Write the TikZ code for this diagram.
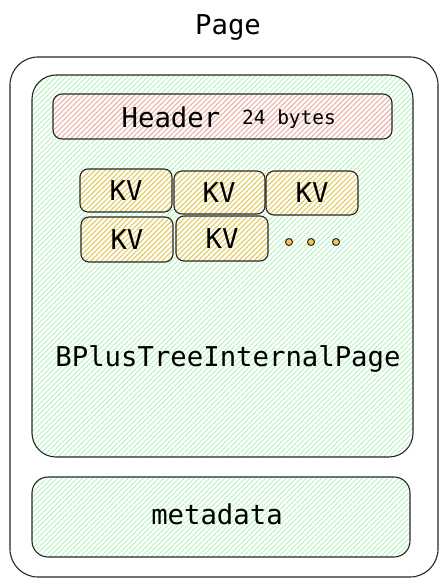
\documentclass[tikz,border=0pt]{standalone}
\usepackage{fontspec}
\setmonofont{DejaVu Sans Mono}
\usetikzlibrary{patterns.meta}
\definecolor{hgreen}{HTML}{B2F2BB}
\definecolor{hred}{HTML}{FFA8A8}
\definecolor{hyellow}{HTML}{F5C451}
\tikzset{
  box/.style={draw=black!85, line width=1.1pt},
  hatch/.style={pattern={Lines[angle=45,distance=3.6pt,line width=0.9pt]}, pattern color=#1},
  kvbox/.style={box, hatch=hyellow, rounded corners=8pt},
  lbl/.style={font=\ttfamily\fontsize{27.3}{28}\selectfont, text=black},
}
\begin{document}
\begin{tikzpicture}[x=1pt,y=-1pt]
\useasboundingbox (0,0) rectangle (447,586);
\node[lbl] (title) at (228,27) {Page};
\draw[box, rounded corners=28pt] (10,57) rectangle (438,577);
\draw[box, hatch=hgreen, rounded corners=24pt] (32,75) rectangle (413,457);
\draw[box, hatch=hred, rounded corners=9pt] (53,94) rectangle (392,139);
\node[lbl, anchor=base] (hdr) at (171,127) {Header};
\node[font=\ttfamily\fontsize{19.5}{20}\selectfont, anchor=base] (bytes) at (289,124) {24 bytes};
\draw[kvbox] (80,169) rectangle (172,212); \node[lbl] (kv1) at (126,191) {KV};
\draw[kvbox] (174,171) rectangle (265,214); \node[lbl] (kv2) at (219,193) {KV};
\draw[kvbox] (266,171) rectangle (358,215); \node[lbl] (kv3) at (312,193) {KV};
\draw[kvbox] (81,217) rectangle (173,262); \node[lbl] (kv4) at (127,240) {KV};
\draw[kvbox] (176,216) rectangle (268,261); \node[lbl] (kv5) at (222,239) {KV};
\foreach \x in {289,311,336} \draw[black!85, line width=1pt, fill=hyellow] (\x,242) circle (3.5pt);
\node[lbl] (bpt) at (228,359) {BPlusTreeInternalPage};
\draw[box, hatch=hgreen, rounded corners=16pt] (32,477) rectangle (410,557);
\node[lbl] (meta) at (217,514) {metadata};
\end{tikzpicture}
\end{document}
